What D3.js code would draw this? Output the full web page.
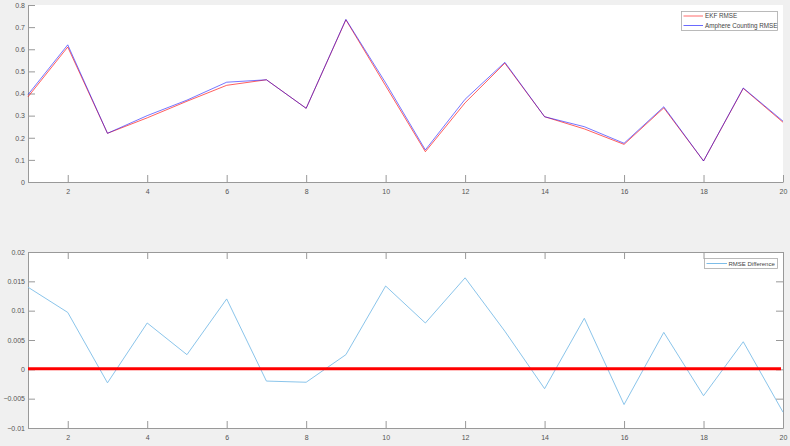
<!DOCTYPE html>
<html>
<head>
<meta charset="utf-8">
<script src="https://cdn.jsdelivr.net/npm/d3@7"></script>
<style>
  body { margin: 0; background: #f0f0f0; }
  svg { display: block; }
  .tick text { font-family: "Liberation Sans", Arial, sans-serif; font-size: 7px; fill: #555; }
  .legend text { font-family: "Liberation Sans", Arial, sans-serif; fill: #444; }
</style>
</head>
<body>
<div id="chart"></div>
<script>
var runs = [1, 2, 3, 4, 5, 6, 7, 8, 9, 10, 11, 12, 13, 14, 15, 16, 17, 18, 19, 20];

var ekfRmse = [0.385, 0.61, 0.22, 0.29, 0.365, 0.437, 0.462, 0.333, 0.733, 0.435,
               0.137, 0.358, 0.537, 0.295, 0.24, 0.17, 0.335, 0.095, 0.423, 0.27];

var ampRmse = [0.395, 0.62, 0.22, 0.30, 0.37, 0.451, 0.462, 0.333, 0.735, 0.448,
               0.145, 0.374, 0.541, 0.295, 0.25, 0.175, 0.34, 0.095, 0.425, 0.275];

var rmseDiff = [0.014, 0.0097, -0.0023, 0.0079, 0.0025, 0.012, -0.0020, -0.0022, 0.0025, 0.0142,
                0.0079, 0.0156, 0.0065, -0.0033, 0.0087, -0.0060, 0.0063, -0.0045, 0.0047, -0.0073];

var xTicks = [2, 4, 6, 8, 10, 12, 14, 16, 18, 20];
var topYTicks = [0, 0.1, 0.2, 0.3, 0.4, 0.5, 0.6, 0.7, 0.8];
var botYTicks = [-0.01, -0.005, 0, 0.005, 0.01, 0.015, 0.02];

var w = 790, h = 446;
var left = 28, right = 783;
var axisColor = "#999";

var svg = d3.select("#chart").append("svg")
    .attr("width", w)
    .attr("height", h);

var x = d3.scaleLinear().domain([1, 20]).range([left, right]);

function styleAxis(g) {
    g.select(".domain").attr("stroke", axisColor);
    g.selectAll(".tick line").attr("stroke", axisColor);
}

// ---------- top plot ----------
var topY0 = 182, topY1 = 5;
var y1 = d3.scaleLinear().domain([0, 0.8]).range([topY0, topY1]);

svg.append("rect")
    .attr("x", left).attr("y", topY1)
    .attr("width", right - left).attr("height", topY0 - topY1)
    .attr("fill", "#fff");

svg.append("g")
    .attr("transform", "translate(0," + topY0 + ")")
    .call(d3.axisBottom(x).tickValues(xTicks).tickSizeInner(-7).tickSizeOuter(0).tickPadding(7))
    .call(styleAxis);

svg.append("g")
    .attr("transform", "translate(" + left + ",0)")
    .call(d3.axisLeft(y1).tickValues(topYTicks).tickFormat(d3.format("~g")).tickSizeInner(-7).tickSizeOuter(0).tickPadding(3))
    .call(styleAxis);

var line1 = d3.line()
    .x(function (d, i) { return x(runs[i]); })
    .y(function (d) { return y1(d); });

svg.append("path")
    .datum(ekfRmse)
    .attr("d", line1)
    .attr("fill", "none")
    .attr("stroke", "#ff0000")
    .attr("stroke-opacity", 0.7)
    .attr("stroke-width", 0.9);

svg.append("path")
    .datum(ampRmse)
    .attr("d", line1)
    .attr("fill", "none")
    .attr("stroke", "#0000ff")
    .attr("stroke-opacity", 0.6)
    .attr("stroke-width", 0.9);

// legend top
var lg1 = svg.append("g").attr("class", "legend");
lg1.append("rect")
    .attr("x", 681.5).attr("y", 11.5)
    .attr("width", 96).attr("height", 19)
    .attr("fill", "#fff").attr("stroke", "#aaa").attr("stroke-width", 0.8);
[["EKF RMSE", "#ff0000", 16], ["Amphere Counting RMSE", "#0000ff", 25.5]].forEach(function (e) {
    lg1.append("line")
        .attr("x1", 683.5).attr("x2", 703).attr("y1", e[2]).attr("y2", e[2])
        .attr("stroke", e[1]).attr("stroke-opacity", 0.65).attr("stroke-width", 0.9);
    lg1.append("text")
        .attr("x", 705).attr("y", e[2] + 2.2)
        .style("font-size", "6.3px")
        .text(e[0]);
});

// ---------- bottom plot ----------
var botY0 = 428, botY1 = 252;
var y2 = d3.scaleLinear().domain([-0.01, 0.02]).range([botY0, botY1]);

svg.append("rect")
    .attr("x", left).attr("y", botY1)
    .attr("width", right - left).attr("height", botY0 - botY1)
    .attr("fill", "#fff");

svg.append("g")
    .attr("transform", "translate(0," + botY0 + ")")
    .call(d3.axisBottom(x).tickValues(xTicks).tickSizeInner(-7).tickSizeOuter(0).tickPadding(7))
    .call(styleAxis);

svg.append("g")
    .attr("transform", "translate(0," + botY1 + ")")
    .call(d3.axisTop(x).tickValues(xTicks).tickFormat("").tickSizeInner(-7).tickSizeOuter(0))
    .call(styleAxis);

svg.append("g")
    .attr("transform", "translate(" + left + ",0)")
    .call(d3.axisLeft(y2).tickValues(botYTicks).tickFormat(d3.format("~g")).tickSizeInner(-7).tickSizeOuter(0).tickPadding(3))
    .call(styleAxis);

svg.append("g")
    .attr("transform", "translate(" + right + ",0)")
    .call(d3.axisRight(y2).tickValues(botYTicks).tickFormat("").tickSizeInner(-7).tickSizeOuter(0))
    .call(styleAxis);

var line2 = d3.line()
    .x(function (d, i) { return x(runs[i]); })
    .y(function (d) { return y2(d); });

svg.append("path")
    .datum(rmseDiff)
    .attr("d", line2)
    .attr("fill", "none")
    .attr("stroke", "#7dbde8")
    .attr("stroke-width", 0.9);

// zero reference line
svg.append("line")
    .attr("x1", x(1)).attr("x2", x(20) - 2)
    .attr("y1", y2(0) - 0.7).attr("y2", y2(0) - 0.7)
    .attr("stroke", "#ff0000")
    .attr("stroke-width", 3);

// legend bottom
var lg2 = svg.append("g").attr("class", "legend");
lg2.append("rect")
    .attr("x", 704.5).attr("y", 258.5)
    .attr("width", 73).attr("height", 10)
    .attr("fill", "#fff").attr("stroke", "#aaa").attr("stroke-width", 0.8);
lg2.append("line")
    .attr("x1", 706.5).attr("x2", 727).attr("y1", 263.5).attr("y2", 263.5)
    .attr("stroke", "#7dbde8").attr("stroke-width", 1);
lg2.append("text")
    .attr("x", 728.5).attr("y", 265.7)
    .style("font-size", "6px")
    .text("RMSE Difference");
</script>
</body>
</html>
